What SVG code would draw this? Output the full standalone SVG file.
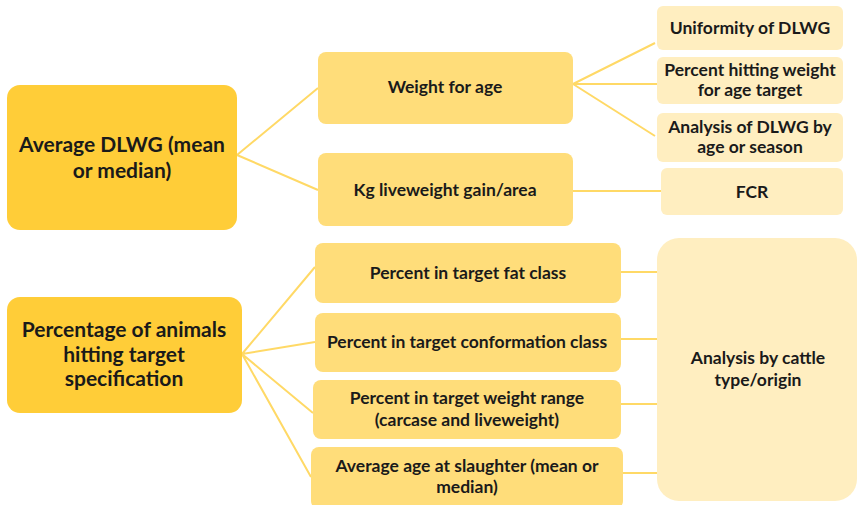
<svg xmlns="http://www.w3.org/2000/svg" width="858" height="505" viewBox="0 0 858 505">
<style>
.l1{fill:#FFCD38}
.l2{fill:#FFDD7A}
.l3{fill:#FFEEC0}
.c{stroke:#FFD966;stroke-width:2;fill:none}
text{font-family:Lato,"Open Sans",sans-serif;font-weight:bold;fill:#1a1a1a;text-anchor:middle}
.big{font-size:21px}
.sm{font-size:17.5px}
</style>
<rect width="858" height="505" fill="#fff"/>
<g id="connectors">
<path class="c" d="M237 155 L318 88 M237 155 L318 190"/>
<path class="c" d="M573 84 L655 43 M573 84 L657 84 M573 84 L655 136"/>
<path class="c" d="M573 191 L661 191"/>
<path class="c" d="M242 354 L315 267 M242 354 L315 342 M242 354 L313 413 M242 354 L311 477"/>
<path class="c" d="M621 272 L657 272 M621 339 L657 339 M621 404 L657 404 M623 473 L657 473"/>
</g>
<g id="n-avg-dlwg">
<rect class="l1" x="7" y="85" width="230" height="145" rx="13"/>
<text class="big" x="122" y="152">Average DLWG (mean</text>
<text class="big" x="122" y="178">or median)</text>
</g>
<g id="n-pct-animals">
<rect class="l1" x="7" y="297" width="235" height="116" rx="13"/>
<text class="big" x="124" y="337">Percentage of animals</text>
<text class="big" x="124" y="362">hitting target</text>
<text class="big" x="124" y="386">specification</text>
</g>
<g id="n-weight-age">
<rect class="l2" x="318" y="52" width="255" height="72" rx="8"/>
<text class="sm" x="445" y="93">Weight for age</text>
</g>
<g id="n-kg-lwg">
<rect class="l2" x="318" y="153" width="255" height="73" rx="8"/>
<text class="sm" x="445" y="196">Kg liveweight gain/area</text>
</g>
<g id="n-uniformity">
<rect class="l3" x="657" y="6" width="186" height="44" rx="6"/>
<text class="sm" x="750" y="34">Uniformity of DLWG</text>
</g>
<g id="n-pct-hitting">
<rect class="l3" x="657" y="57" width="186" height="47" rx="6"/>
<text class="sm" x="750" y="76">Percent hitting weight</text>
<text class="sm" x="750" y="96">for age target</text>
</g>
<g id="n-analysis-dlwg">
<rect class="l3" x="657" y="113" width="186" height="49" rx="6"/>
<text class="sm" x="750" y="133">Analysis of DLWG by</text>
<text class="sm" x="750" y="153">age or season</text>
</g>
<g id="n-fcr">
<rect class="l3" x="661" y="168" width="182" height="47" rx="6"/>
<text class="sm" x="752" y="198">FCR</text>
</g>
<g id="n-fat">
<rect class="l2" x="315" y="243" width="306" height="60" rx="8"/>
<text class="sm" x="468" y="279">Percent in target fat class</text>
</g>
<g id="n-conf">
<rect class="l2" x="315" y="313" width="306" height="59" rx="8"/>
<text class="sm" x="467" y="348">Percent in target conformation class</text>
</g>
<g id="n-weight-range">
<rect class="l2" x="313" y="380" width="308" height="59" rx="8"/>
<text class="sm" x="467" y="404">Percent in target weight range</text>
<text class="sm" x="467" y="426">(carcase and  liveweight)</text>
</g>
<g id="n-age-slaughter">
<rect class="l2" x="311" y="447" width="312" height="62" rx="8"/>
<text class="sm" x="467" y="472">Average age at slaughter (mean or</text>
<text class="sm" x="467" y="493">median)</text>
</g>
<g id="n-cattle-type">
<rect class="l3" x="657" y="238" width="200" height="263" rx="22"/>
<text class="sm" x="758" y="364">Analysis by cattle</text>
<text class="sm" x="758" y="386">type/origin</text>
</g>
</svg>
